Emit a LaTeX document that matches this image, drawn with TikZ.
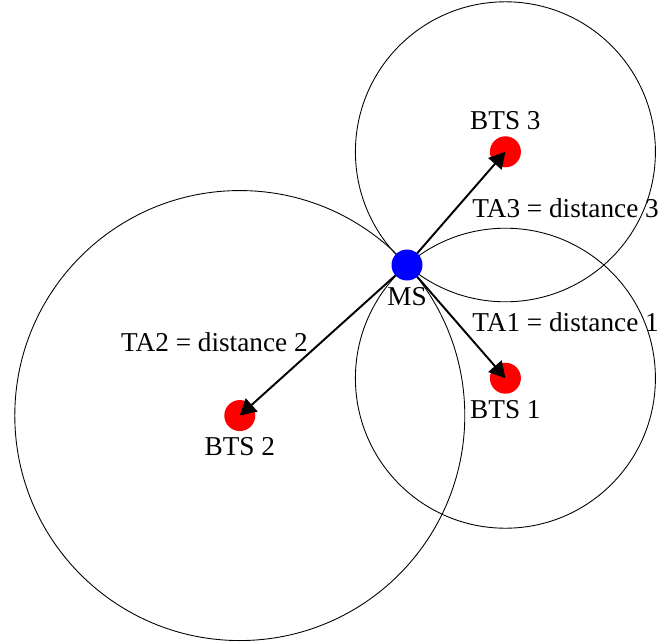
\documentclass[tikz,border=0pt]{standalone}
\usepackage{fontspec}
\setmainfont{Liberation Serif}
\usepackage{tikz}
\usetikzlibrary{positioning,arrows.meta}
\tikzset{
bts/.style={
circle,
fill=red,
minimum size=0.62cm,
inner sep=0pt
},
ms/.style={
circle,
fill=blue,
minimum size=0.62cm,
inner sep=0pt
},
cell/.style={
draw,
line width=0.5pt
},
arrow/.style={
-{Triangle[length=3.2mm,width=3.5mm]},
line width=1.1pt
},
talabel/.style={
inner sep=0pt,
anchor=base west
}
}

\begin{document}
\begin{tikzpicture}[x=1.5cm,y=1.5cm,font=\fontsize{15.5}{18}\selectfont]
\useasboundingbox (-5.4267,-5.0267) rectangle (3.4533,3.5333);
\coordinate (o) at (0,0);
\node[bts,label=below:BTS 1](bts1) at (-49:2) {};
\node[bts,label=below:BTS 2](bts2) at (222:3) {};
\node[bts,label=above:BTS 3](bts3) at (49:2) {};

% cells, all passing through the MS
\draw[cell] (bts1.center) circle[radius=2];
\draw[cell] (bts2.center) circle[radius=3];
\draw[cell] (bts3.center) circle[radius=2];

\foreach \b in {bts1,bts2,bts3}
\draw[arrow](o)--(\b.center);
\node[ms,label=below:MS](ms) at (o) {};

\node[talabel](ta3) at (0.867,0.627) {TA3 = distance 3};
\node[talabel](ta1) at (0.867,-0.893) {TA1 = distance 1};
\node[talabel,anchor=base east](ta2) at (-1.32,-1.147) {TA2 = distance 2};
\end{tikzpicture}
\end{document}
